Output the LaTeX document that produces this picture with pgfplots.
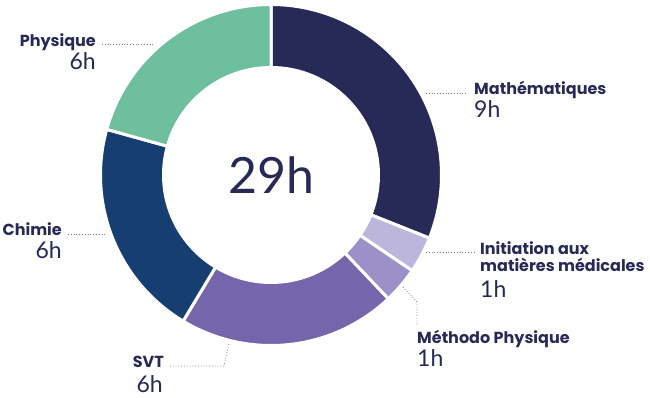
\documentclass[border=0pt]{standalone}
\usepackage{pgfplots}
\pgfplotsset{compat=1.18}
\usepackage{fontspec}
\setmainfont{Lato}
\newfontfamily\labfont{Poppins}
\definecolor{cmath}{HTML}{272A56}
\definecolor{cinit}{HTML}{BCB6DC}
\definecolor{cmeth}{HTML}{9B90C7}
\definecolor{csvt}{HTML}{7565AB}
\definecolor{cchim}{HTML}{163E70}
\definecolor{cphys}{HTML}{6DBF9E}
\definecolor{ctext}{HTML}{272A56}
\definecolor{cdot}{HTML}{7B78A0}
% hours per subject (clockwise from top): Maths 9, Initiation 1, Methodo 1, SVT 6, Chimie 6, Physique 6
\def\total{29}
\newcommand{\slice}[3]{%
  \pgfmathsetmacro\sa{90-360*#1/\total}%
  \pgfmathsetmacro\sb{90-360*#2/\total}%
  \edef\temp{\noexpand\addplot[fill=#3, draw=white, line width=3pt, line join=miter, domain=\sb:\sa, samples=80, variable=\noexpand\t]}%
  \temp ({271+170.5*cos(\t)},{223+170.5*sin(\t)}) -- (axis cs:271,223) -- cycle;%
}
\newcommand{\lab}[1]{{\labfont\fontsize{16}{19}\selectfont\bfseries #1}}
\newcommand{\num}[1]{{\fontsize{23}{26}\selectfont #1}}
\begin{document}
\begin{tikzpicture}
\path[use as bounding box] (0,0) rectangle (650pt,398pt);
\begin{axis}[
  scale only axis, width=650pt, height=398pt,
  xmin=0, xmax=650, ymin=0, ymax=398,
  hide axis, clip=false,
]
\slice{0}{9}{cmath}
\slice{9}{10}{cinit}
\slice{10}{11}{cmeth}
\slice{11}{17}{csvt}
\slice{17}{23}{cchim}
\slice{23}{29}{cphys}
\fill[white] (axis cs:271,223) circle[radius=109pt];
\node[text=ctext, font=\fontsize{50}{56}\selectfont] at (axis cs:271,223) {29h};
% leaders
\draw[cdot, line width=0.8pt, dotted] (axis cs:102,354) -- (axis cs:153,354);
\draw[cdot, line width=0.8pt, dotted] (axis cs:426,305) -- (axis cs:468,305);
\draw[cdot, line width=0.8pt, dotted] (axis cs:426,146) -- (axis cs:474,146);
\draw[cdot, line width=0.8pt, dotted] (axis cs:403,111) -- (axis cs:417,96) -- (axis cs:417,73);
\draw[cdot, line width=0.8pt, dotted] (axis cs:170,32) -- (axis cs:224,32) -- (axis cs:229,55);
\draw[cdot, line width=0.8pt, dotted] (axis cs:68,164) -- (axis cs:107,164);
% labels
\node[text=ctext, anchor=base east, inner sep=0pt] at (axis cs:96,351) {\lab{Physique}};
\node[text=ctext, anchor=base east, inner sep=0pt] at (axis cs:96,328) {\num{6h}};
\node[text=ctext, anchor=base west, inner sep=0pt] at (axis cs:474,303) {\lab{Mathématiques}};
\node[text=ctext, anchor=base west, inner sep=0pt] at (axis cs:474,280) {\num{9h}};
\node[text=ctext, anchor=base west, inner sep=0pt] at (axis cs:480,143) {\lab{Initiation aux}};
\node[text=ctext, anchor=base west, inner sep=0pt] at (axis cs:480,126) {\lab{matières médicales}};
\node[text=ctext, anchor=base west, inner sep=0pt] at (axis cs:480,100) {\num{1h}};
\node[text=ctext, anchor=base west, inner sep=0pt] at (axis cs:417,54) {\lab{Méthodo Physique}};
\node[text=ctext, anchor=base west, inner sep=0pt] at (axis cs:417,31) {\num{1h}};
\node[text=ctext, anchor=base east, inner sep=0pt] at (axis cs:164,30) {\lab{SVT}};
\node[text=ctext, anchor=base east, inner sep=0pt] at (axis cs:163,5) {\num{6h}};
\node[text=ctext, anchor=base east, inner sep=0pt] at (axis cs:62,162) {\lab{Chimie}};
\node[text=ctext, anchor=base east, inner sep=0pt] at (axis cs:62,139) {\num{6h}};
\end{axis}
\end{tikzpicture}
\end{document}
